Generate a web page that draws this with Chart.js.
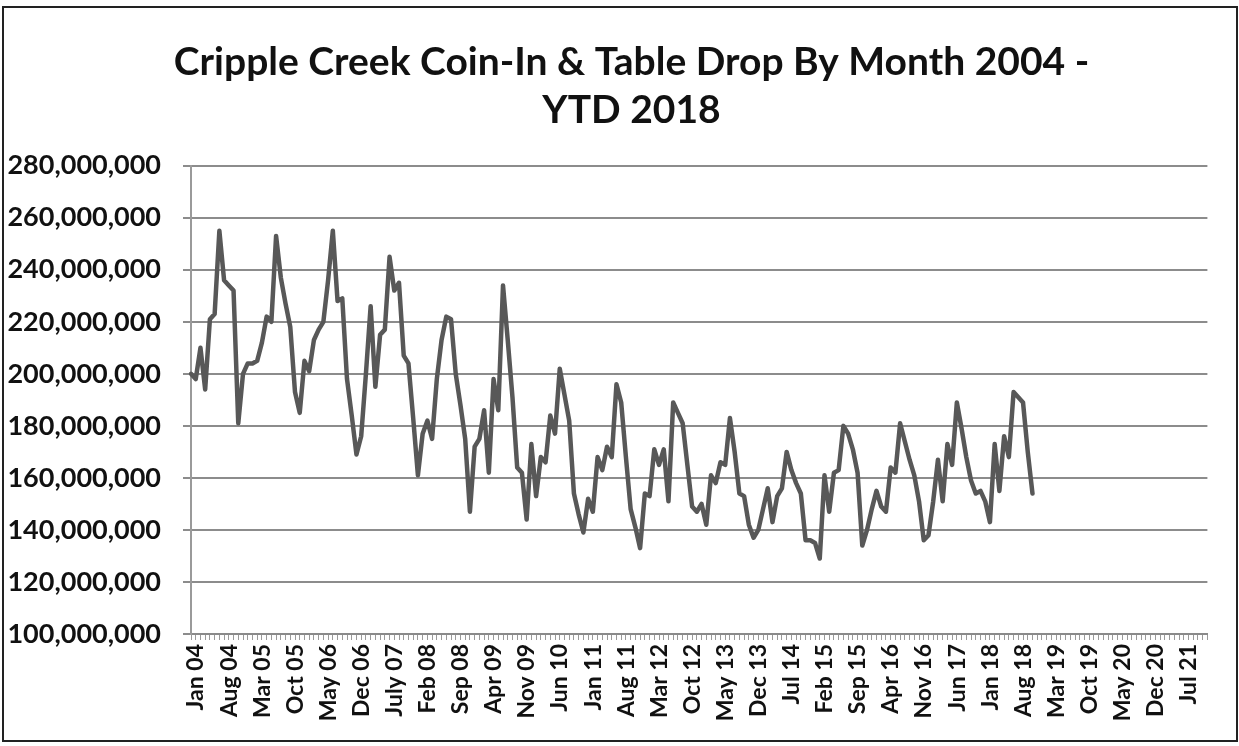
<!DOCTYPE html>
<html>
<head>
<meta charset="utf-8">
<script src="https://cdn.jsdelivr.net/npm/chart.js@4.4.1/dist/chart.umd.min.js"></script>
<style>
  html, body { margin: 0; padding: 0; background: #fff; }
  #wrap { position: relative; width: 1239px; height: 746px; }
  #frame { position: absolute; left: 2px; top: 6px; width: 1232px; height: 732px; border: 2px solid #222; pointer-events: none; }
</style>
</head>
<body>
<div id="wrap">
  <canvas id="grafico"></canvas>
  <div id="frame"></div>
</div>
<script>
// month names used to build the category axis (Jan 04 .. Dec 21)
const meses = ['Jan','Feb','Mar','Apr','May','Jun','Jul','Aug','Sep','Oct','Nov','Dec']
const anos = [2004,2005,2006,2007,2008,2009,2010,2011,2012,2013,2014,2015,2016,2017,2018,2019,2020,2021]

// labels shown on the axis (every 7th month)
const tickLabels = ['Jan 04','Aug 04','Mar 05','Oct 05','May 06','Dec 06','July 07','Feb 08','Sep 08','Apr 09',
  'Nov 09','Jun 10','Jan 11','Aug 11','Mar 12','Oct 12','May 13','Dec 13','Jul 14','Feb 15','Sep 15',
  'Apr 16','Nov 16','Jun 17','Jan 18','Aug 18','Mar 19','Oct 19','May 20','Dec 20','Jul 21']

// coin-in & table drop, millions of dollars, Jan 2004 - Nov 2018
const valores = [
  200,198,210,194,221,223,255,236,234,232,181,200,
  204,204,205,212,222,220,253,237,227,218,193,185,
  205,201,213,217,220,236,255,228,229,198,184,169,
  176,200,226,195,215,217,245,232,235,207,204,183,
  161,177,182,175,198,213,222,221,200,188,175,147,
  172,175,186,162,198,186,234,213,191,164,162,144,
  173,153,168,166,184,177,202,192,182,154,146,139,
  152,147,168,163,172,168,196,189,168,148,141,133,
  154,153,171,165,171,151,189,185,181,165,149,147,
  150,142,161,158,166,165,183,170,154,153,142,137,
  140,148,156,143,153,156,170,163,158,154,136,136,
  135,129,161,147,162,163,180,177,171,162,134,140,
  148,155,149,147,164,162,181,174,167,161,151,136,
  138,151,167,151,173,165,189,179,168,159,154,155,
  151,143,173,155,176,168,193,191,189,170,154
]

const yMin = 100
const yMax = 280
const yStep = 20

const labels = []
anos.forEach(a => meses.forEach(m => labels.push(m + ' ' + String(a).slice(2))))

const dados = labels.map((l, i) => i < valores.length ? valores[i] : null)

// the title in the original sits a bit right of the canvas centre
const tituloDeslocado = {
  id: 'tituloDeslocado',
  afterLayout(chart) {
    if (chart.titleBlock) chart.titleBlock.left = 44
  }
}

const ctx = document.getElementById('grafico').getContext('2d')

new Chart(ctx, {
  type: 'line',
  data: {
    labels: labels,
    datasets: [{
      data: dados,
      borderColor: '#585858',
      borderWidth: 4.5,
      borderJoinStyle: 'round',
      borderCapStyle: 'round',
      pointRadius: 0,
      tension: 0,
      fill: false
    }]
  },
  options: {
    responsive: true,
    maintainAspectRatio: false,
    animation: false,
    layout: { padding: { top: 6, right: 20, bottom: 12, left: 0 } },
    plugins: {
      legend: { display: false },
      tooltip: { enabled: false },
      title: {
        display: true,
        text: ['Cripple Creek Coin-In & Table Drop By Month 2004 -', 'YTD 2018'],
        color: '#111',
        font: { family: 'Lato', size: 39, weight: 'bold', lineHeight: 1.24 },
        padding: { top: 32, bottom: 31 }
      }
    },
    scales: {
      x: {
        offset: false,
        grid: {
          drawOnChartArea: false,
          drawTicks: true,
          tickLength: 6,
          color: '#9a9a9a',
          lineWidth: 1
        },
        border: { color: '#8a8a8a', width: 2 },
        ticks: {
          autoSkip: false,
          minRotation: 90,
          maxRotation: 90,
          padding: 4,
          labelOffset: 5,
          color: '#111',
          font: { family: 'Lato', size: 23, weight: 'bold' },
          callback: (v, i) => i % 7 === 0 ? tickLabels[i / 7] : ''
        },
        afterFit: s => { s.height = 100 }
      },
      y: {
        min: yMin,
        max: yMax,
        grid: { color: '#8c8c8c', lineWidth: 2, tickLength: 8 },
        border: { color: '#9a9a9a', width: 2 },
        ticks: {
          stepSize: yStep,
          padding: 22,
          color: '#111',
          font: { family: 'Lato', size: 27, weight: 'bold' },
          callback: v => (v * 1000000).toLocaleString('en-US')
        },
        afterFit: s => { s.width = 191 }
      }
    }
  },
  plugins: [tituloDeslocado]
})
</script>
</body>
</html>
